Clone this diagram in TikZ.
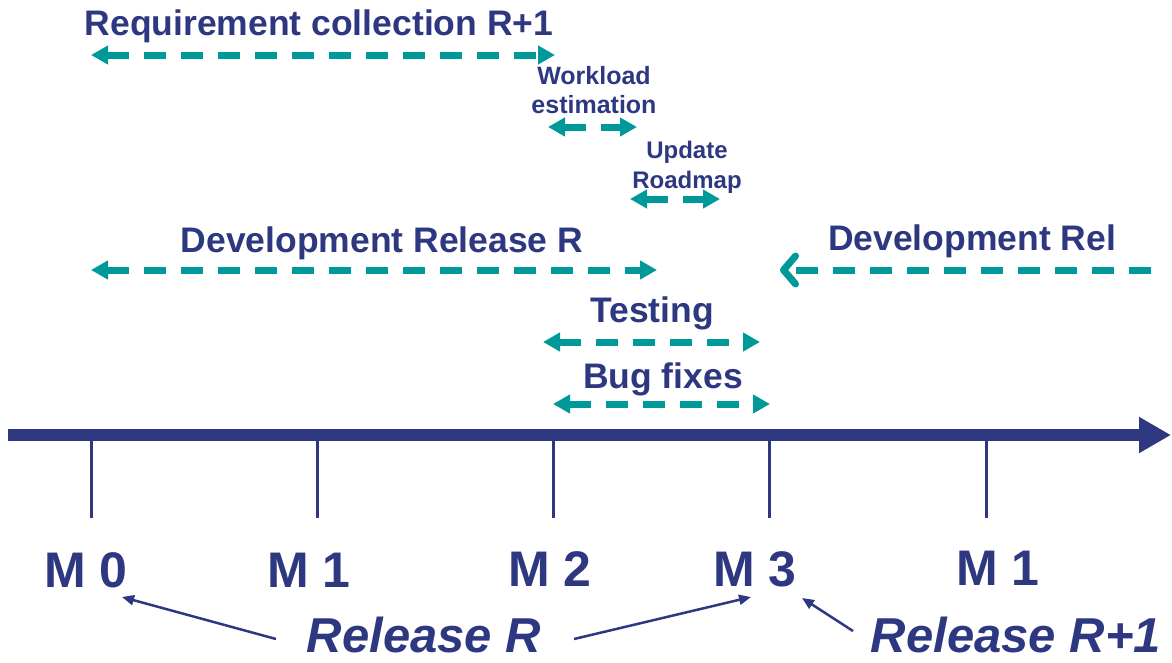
\documentclass[tikz,border=0pt]{standalone}
\usepackage{fontspec}
\setmainfont{Liberation Sans}
\usetikzlibrary{arrows.meta}
\definecolor{navy}{RGB}{46,56,128}
\definecolor{tealc}{RGB}{0,153,153}
\begin{document}
\begin{tikzpicture}[x=1pt,y=-1pt,
  lbl/.style={font=\bfseries\fontsize{35.5}{40}\selectfont, text=navy, inner sep=0pt, anchor=base},
  small/.style={font=\bfseries\fontsize{25}{29}\selectfont, text=navy, inner sep=0pt, align=center},
  mlbl/.style={font=\bfseries\fontsize{50}{56}\selectfont, text=navy, inner sep=0pt, anchor=base},
  rlbl/.style={font=\bfseries\itshape\fontsize{49}{56}\selectfont, text=navy, inner sep=0pt, anchor=base},
  span/.style={draw=tealc, line width=7pt, dash pattern=on 22pt off 15pt,
    {Triangle[length=17pt,width=18pt]}-{Triangle[length=17pt,width=18pt]}},
  tick/.style={draw=navy, line width=3pt},
  ptr/.style={draw=navy, line width=2.5pt, -{Triangle[length=12pt,width=10pt]}}]
\useasboundingbox (0,0) rectangle (1172,662);

% main time axis
\coordinate (axL) at (8,435);
\coordinate (axR) at (1171,435);
\draw[navy, line width=12pt, -{Triangle[length=32pt,width=34pt]}] (axL) -- (axR);

% ticks
\foreach \n/\x in {t0/91,t1/317,t2/553,t3/769,t4/986}{
  \coordinate (\n a) at (\x,438);
  \coordinate (\n b) at (\x,518);
  \draw[tick] (\n a) -- (\n b);
}

% milestone labels
\node[mlbl] (m0) at (86,587) {M 0};
\node[mlbl] (m1) at (309,587) {M 1};
\node[mlbl] (m2) at (550,586) {M 2};
\node[mlbl] (m3) at (755,586) {M 3};
\node[mlbl] (m1b) at (998,585) {M 1};

% release labels
\node[rlbl] (relR) at (424,652) {Release R};
\node[rlbl] (relR1) at (1016,652) {Release R+1};
\coordinate (p1s) at (276,639);
\coordinate (p1e) at (122,597);
\coordinate (p2s) at (574,639);
\coordinate (p2e) at (751,597);
\coordinate (p3s) at (853,631);
\coordinate (p3e) at (802,598);
\draw[ptr] (p1s) -- (p1e);
\draw[ptr] (p2s) -- (p2e);
\draw[ptr] (p3s) -- (p3e);

% requirement collection
\node[lbl] (req) at (319,35) {Requirement collection R+1};
\coordinate (reqL) at (91,55);
\coordinate (reqR) at (555,55);
\draw[span] (reqL) -- (reqR);

% workload estimation
\node[small] (wl) at (594,90) {Workload\\estimation};
\coordinate (wlL) at (548,127);
\coordinate (wlR) at (637,127);
\draw[span] (wlL) -- (wlR);

% update roadmap
\node[small, font=\bfseries\fontsize{24}{30}\selectfont] (ur) at (687,167) {Update\\Roadmap};
\coordinate (urL) at (630,199);
\coordinate (urR) at (720,199);
\draw[span] (urL) -- (urR);

% development release R
\node[lbl] (devR) at (382,252) {Development Release R};
\coordinate (devL) at (91,270);
\coordinate (devRt) at (657,270);
\draw[span] (devL) -- (devRt);

% development rel (next)
\node[lbl] (devN) at (972,250) {Development Rel};
\coordinate (devNR) at (1151,270);
\coordinate (devNL) at (780,270);
\draw[draw=tealc, line width=7pt, dash pattern=on 22pt off 15pt,
  -{Straight Barb[length=12pt,width=28pt,round]}] (devNR) -- (devNL);

% testing
\node[lbl] (test) at (652,322) {Testing};
\coordinate (testL) at (543,342);
\coordinate (testR) at (760,342);
\draw[span] (testL) -- (testR);

% bug fixes
\node[lbl] (bug) at (663,388) {Bug fixes};
\coordinate (bugL) at (553,404);
\coordinate (bugR) at (770,404);
\draw[span] (bugL) -- (bugR);
\end{tikzpicture}
\end{document}
